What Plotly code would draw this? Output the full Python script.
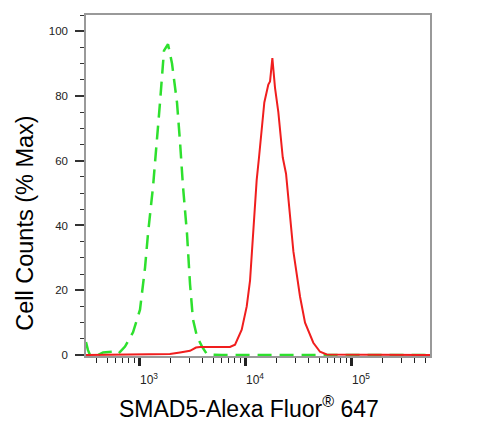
import plotly.graph_objects as go

# isotype control (green dashed) - fluorescence intensity vs % max
iso_x = [316, 330, 345, 410, 458, 556, 633, 738, 878, 1022, 1140, 1216, 1356,
         1479, 1578, 1721, 1878, 2048, 2282, 2435, 2600, 2836, 3027, 3230,
         3524, 3930, 4385, 6000, 20000, 100000, 556000]
iso_y = [4.0, 1.5, 0, 0, 0.8, 1.0, 0.3, 2.6, 7, 14, 27, 37.5, 52,
         66, 78, 94, 96, 90, 78, 66, 52, 37.5, 22, 11,
         5.7, 2.6, 0.2, 0, 0, 0, 0]

# SMAD5 stained sample (red)
smad_x = [316, 1958, 2435, 3027, 3450, 3758, 7211, 8050, 9310, 10380, 11150,
          11890, 12880, 13550, 14380, 15210, 16590, 17220, 18110, 19190,
          20620, 22700, 24380, 26600, 28590, 33050, 36830, 44080, 51000,
          59000, 556000]
smad_y = [0, 0.3, 0.8, 1.3, 2.3, 2.5, 2.5, 3.2, 7.8, 15, 23,
          38.5, 54, 61, 69, 78, 83.5, 84.5, 91.7, 82.5,
          75, 61, 56, 42.6, 32, 18, 10, 3.8, 1.0,
          0.2, 0]

x_major = [1e3, 1e4, 1e5]
x_major_text = ["10<sup>3</sup>", "10<sup>4</sup>", "10<sup>5</sup>"]
x_minor = [d * 10 ** e for e in range(2, 6) for d in range(2, 10)]

fnt = "Arial, Liberation Sans, sans-serif"

# page has an 8px body margin, so the plot box is placed with that in mind
off = 8
L, T, R, B = 86, 13, 430, 356
ml, mt = L - off, T - off
mr, mb = 488 + off - R, 431 + off - B


def px(x):
    return (x - L) / (R - L)


def py(y):
    return (B - y) / (B - T)


fig = go.Figure()
fig.add_trace(go.Scatter(x=iso_x, y=iso_y, mode="lines",
                         line=dict(color="#2ee02e", width=2.5, dash="14px,8px"),
                         showlegend=False))
fig.add_trace(go.Scatter(x=smad_x, y=smad_y, mode="lines",
                         line=dict(color="#f01e1e", width=2),
                         showlegend=False))

fig.update_layout(
    width=488, height=431,
    margin=dict(l=ml, r=mr, t=mt, b=mb),
    paper_bgcolor="white", plot_bgcolor="white",
    xaxis=dict(type="log", range=[2.5, 5.745],
               tickmode="array", tickvals=x_major, ticktext=x_major_text,
               ticks="outside", ticklen=8, tickwidth=2.5, tickcolor="#222",
               ticklabelshift=10, ticklabelstandoff=4,
               tickfont=dict(family=fnt, size=12, color="#222"),
               minor=dict(tickvals=x_minor, ticks="outside", ticklen=5,
                          tickwidth=1.2, tickcolor="#222"),
               showline=True, linecolor="#999", linewidth=1.5, mirror=True,
               showgrid=False, zeroline=False),
    yaxis=dict(range=[-0.3, 105], tickvals=[0, 20, 40, 60, 80, 100],
               ticks="outside", ticklen=9, tickwidth=1.5, tickcolor="#333",
               ticklabelstandoff=5,
               tickfont=dict(family=fnt, size=11.5, color="#222"),
               minor=dict(dtick=5, ticks="outside", ticklen=4,
                          tickwidth=1.2, tickcolor="#333"),
               showline=True, linecolor="#999", linewidth=1.5, mirror=True,
               showgrid=False, zeroline=False),
    annotations=[
        dict(text="Cell Counts (% Max)", xref="paper", yref="paper",
             x=px(25), y=py(223), textangle=-90, showarrow=False,
             xanchor="center", yanchor="middle",
             font=dict(family=fnt, size=23.5, color="black")),
        dict(text="SMAD5-Alexa Fluor<sup>®</sup> 647", xref="paper", yref="paper",
             x=px(249), y=py(407), showarrow=False,
             xanchor="center", yanchor="middle",
             font=dict(family=fnt, size=23, color="black")),
    ],
)

fig.write_html("out.html")
